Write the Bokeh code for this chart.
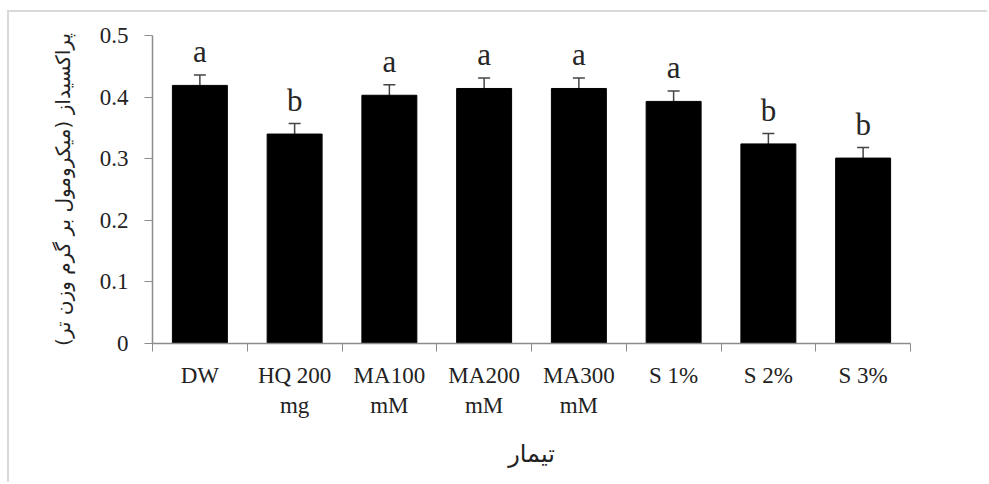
from bokeh.plotting import figure
from bokeh.models import Range1d, FixedTicker, ColumnDataSource, Whisker, TeeHead
from bokeh.core.properties import value
from bokeh.embed import file_html
from bokeh.resources import INLINE

categories = ["DW", "HQ 200\nmg", "MA100\nmM", "MA200\nmM", "MA300\nmM", "S 1%", "S 2%", "S 3%"]
values = [0.419, 0.340, 0.403, 0.414, 0.414, 0.393, 0.324, 0.301]
errors = [0.017, 0.017, 0.017, 0.017, 0.017, 0.017, 0.017, 0.017]
letters = ["a", "b", "a", "a", "a", "a", "b", "b"]
y_ticks = [0, 0.1, 0.2, 0.3, 0.4, 0.5]
y_title = "پراکسیداز (میکرومول بر گرم وزن تر)"
x_title = "تیمار"

xs = [i + 0.5 for i in range(len(categories))]
upper = [v + e for v, e in zip(values, errors)]
lower = [v - e for v, e in zip(values, errors)]
letter_y = [u + 0.038 for u in upper]

src = ColumnDataSource(dict(x=xs, top=values, upper=upper, lower=lower,
                            ly=letter_y, lt=letters))

p = figure(width=980, height=472, output_backend="svg", toolbar_location=None,
           x_range=Range1d(0, len(categories)), y_range=Range1d(0, 0.5),
           min_border_left=143, min_border_right=79, min_border_top=23,
           min_border_bottom=141)
p.styles = {"border-left": "2px solid #d9d9d9", "border-top": "2px solid #d9d9d9",
            "margin-top": "10px", "margin-left": "7px"}
p.background_fill_color = "white"
p.border_fill_color = "white"
p.outline_line_color = None
p.xgrid.grid_line_color = None
p.ygrid.grid_line_color = None

p.vbar(x="x", top="top", width=0.58, source=src, fill_color="black", line_color="black")
p.add_layout(Whisker(source=src, base="x", upper="upper", lower="lower",
                     line_color="#444444", line_width=1.5,
                     upper_head=TeeHead(size=12, line_color="#444444", line_width=1.5),
                     lower_head=TeeHead(size=12, line_color="#444444", line_width=1.5)))
p.text(x="x", y="ly", text="lt", source=src, text_align="center",
       text_baseline="alphabetic", text_font=value("Liberation Serif"),
       text_font_size="31px", text_color="#262626")

# x axis
xa = p.xaxis[0]
xa.ticker = FixedTicker(ticks=xs, minor_ticks=list(range(len(categories) + 1)))
xa.major_label_overrides = {x: c for x, c in zip(xs, categories)}
xa.major_tick_line_color = None
xa.major_tick_out = 0
xa.major_tick_in = 0
xa.minor_tick_line_color = "#8c8c8c"
xa.minor_tick_out = 8
xa.minor_tick_in = 0
xa.axis_line_color = "#8c8c8c"
xa.axis_line_width = 1.5
xa.major_label_text_font = "Liberation Serif"
xa.major_label_text_font_size = "23px"
xa.major_label_text_color = "#222222"
xa.major_label_standoff = 11
xa.axis_label = x_title
xa.axis_label_text_font = "DejaVu Sans"
xa.axis_label_text_font_style = "normal"
xa.axis_label_text_font_size = "24px"
xa.axis_label_text_color = "#222222"
xa.axis_label_standoff = 19

# y axis
ya = p.yaxis[0]
ya.ticker = FixedTicker(ticks=y_ticks)
ya.major_label_overrides = {0: "0"}
ya.minor_tick_line_color = None
ya.major_tick_line_color = "#8c8c8c"
ya.major_tick_out = 8
ya.major_tick_in = 0
ya.axis_line_color = "#8c8c8c"
ya.axis_line_width = 1.5
ya.major_label_text_font = "Liberation Serif"
ya.major_label_text_font_size = "23px"
ya.major_label_text_color = "#222222"
ya.major_label_standoff = 16
ya.axis_label = y_title
ya.axis_label_text_font = "DejaVu Sans"
ya.axis_label_text_font_style = "normal"
ya.axis_label_text_font_size = "20px"
ya.axis_label_text_color = "#222222"
ya.axis_label_standoff = 22

open("out.html", "w").write(file_html(p, INLINE))
